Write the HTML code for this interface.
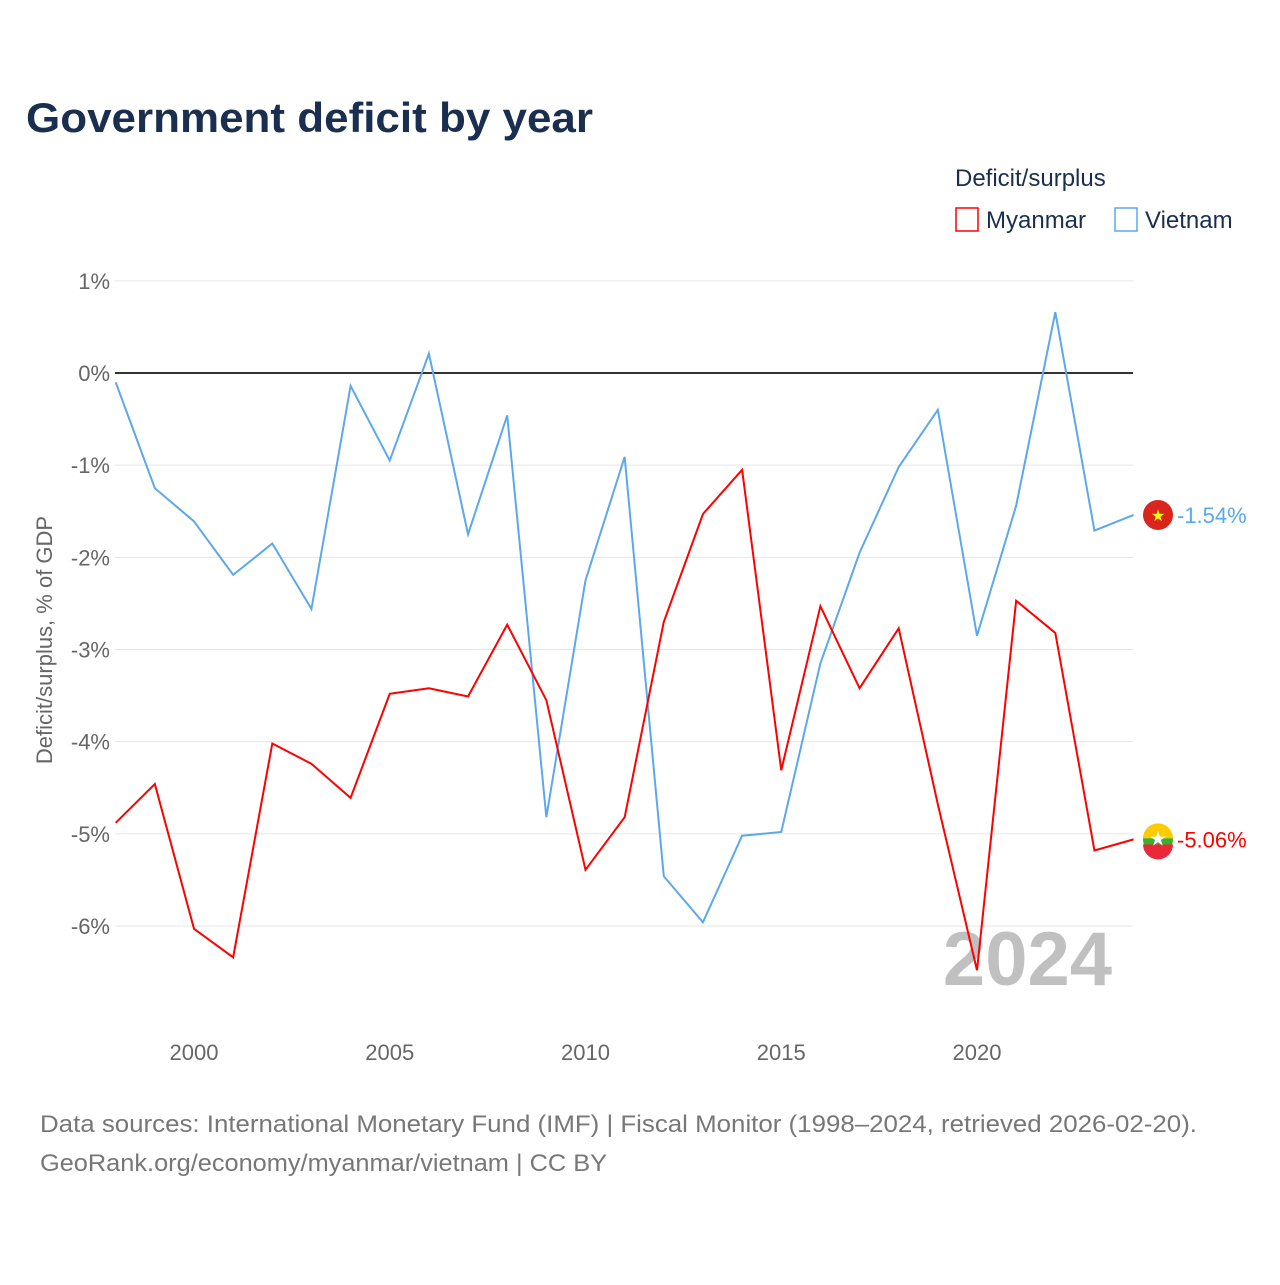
<!DOCTYPE html>
<html><head><meta charset="utf-8"><style>
body{margin:0;background:#fff;font-family:"Liberation Sans",sans-serif;}
svg text{font-family:"Liberation Sans",sans-serif;}
</style></head><body>
<svg width="1280" height="1280" viewBox="0 0 1280 1280">
<text x="26" y="132" font-size="42" font-weight="bold" fill="#1a2e4f" textLength="567" lengthAdjust="spacingAndGlyphs">Government deficit by year</text>
<text x="955" y="186" font-size="24" fill="#1a2e4f">Deficit/surplus</text>
<g><rect x="956" y="208" width="22" height="23" fill="none" stroke="#f00" stroke-width="1.5"/><text x="986" y="228" font-size="24" fill="#1a2e4f">Myanmar</text></g>
<g><rect x="1115" y="208" width="22" height="23" fill="none" stroke="#5ca8ec" stroke-width="1.5"/><text x="1145" y="228" font-size="24" fill="#1a2e4f">Vietnam</text></g>
<g id="grid"></g>
<text x="52" y="640" font-size="22" fill="#666" transform="rotate(-90 52 640)" text-anchor="middle">Deficit/surplus, % of GDP</text>
<text x="1112" y="985" font-size="76" font-weight="bold" fill="#c0c0c0" text-anchor="end">2024</text>
<g id="series"></g>
<text x="40" y="1132" font-size="24" fill="#777" textLength="1157" lengthAdjust="spacingAndGlyphs">Data sources: International Monetary Fund (IMF) | Fiscal Monitor (1998–2024, retrieved 2026-02-20).</text>
<text x="40" y="1171" font-size="24" fill="#777" textLength="567" lengthAdjust="spacingAndGlyphs">GeoRank.org/economy/myanmar/vietnam | CC BY</text>
</svg>
<script>
const years=[1998,1999,2000,2001,2002,2003,2004,2005,2006,2007,2008,2009,2010,2011,2012,2013,2014,2015,2016,2017,2018,2019,2020,2021,2022,2023,2024];
const vietnam=[-0.10,-1.25,-1.61,-2.19,-1.85,-2.56,-0.14,-0.95,0.21,-1.75,-0.46,-4.82,-2.25,-0.91,-5.46,-5.96,-5.02,-4.98,-3.15,-1.95,-1.02,-0.40,-2.85,-1.44,0.66,-1.71,-1.54];
const myanmar=[-4.88,-4.46,-6.03,-6.34,-4.02,-4.24,-4.61,-3.48,-3.42,-3.51,-2.73,-3.55,-5.39,-4.82,-2.70,-1.53,-1.05,-4.31,-2.53,-3.42,-2.77,-4.68,-6.48,-2.47,-2.82,-5.18,-5.06];
const yTicks=[1,0,-1,-2,-3,-4,-5,-6];
const xTicks=[2000,2005,2010,2015,2020];
const NS="http://www.w3.org/2000/svg";
const X=y=>115.7+(y-1998)*39.15;
const Y=v=>373-v*92.17;
function mk(t,a,p){const e=document.createElementNS(NS,t);for(const k in a)e.setAttribute(k,a[k]);p.appendChild(e);return e;}
const grid=document.getElementById('grid');
yTicks.forEach(v=>{
 const l=mk('line',{x1:115,x2:1133,y1:Y(v),y2:Y(v),stroke:v===0?'#333':'#e6e6e6','stroke-width':v===0?2:1},grid);
 
 
 const t=mk('text',{x:110,y:Y(v)+8,'font-size':22,fill:'#666','text-anchor':'end'},grid);
 t.textContent=v+'%';
 
 
});
xTicks.forEach(y=>{
 const t=mk('text',{x:X(y),y:1060,'font-size':22,fill:'#666','text-anchor':'middle'},grid);
 t.textContent=y;
 
 
});
const s=document.getElementById('series');
function line(vals,col,name){
 const p=mk('polyline',{points:vals.map((v,i)=>X(years[i])+','+Y(v)).join(' '),fill:'none',stroke:col,'stroke-width':2,'stroke-linejoin':'miter'},s);
 
 
 const last=vals[vals.length-1];
 const c=mk('circle',{cx:1158,cy:Y(last),r:15,fill:name==='vietnam'?'#da251d':'#34b233'},s);
 
 
 if(name==='myanmar'){mk('path',{d:`M1143 ${Y(last)-1} a15 15 0 0 1 30 0 z`,fill:'#fecb00'},s);mk('path',{d:`M1143 ${Y(last)+5} h30 a15 15 0 0 1 -30 0 z`,fill:'#ea2839'},s);}
 const st=mk('text',{x:1158,y:Y(last)+6,'font-size':name==='vietnam'?16:20,fill:name==='vietnam'?'#ff0':'#fff','text-anchor':'middle'},s);st.textContent='★';
 const t=mk('text',{x:1177,y:Y(last)+8,'font-size':22,fill:col},s);
 t.textContent=last.toFixed(2)+'%';
 
 
}
line(vietnam,'#5ca8ec','vietnam');
line(myanmar,'#f00','myanmar');
</script>
</body></html>
